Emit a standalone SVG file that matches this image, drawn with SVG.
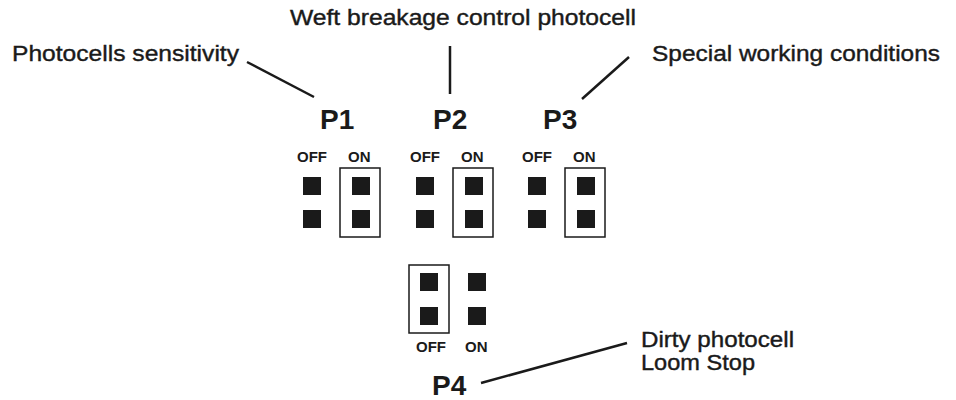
<svg xmlns="http://www.w3.org/2000/svg" width="956" height="400" viewBox="0 0 956 400">
<style>
.lbl{font-family:"Liberation Sans",Arial,sans-serif;font-size:22px;fill:#1a1a1a;stroke:#1a1a1a;stroke-width:0.4}
.p{font-family:"Liberation Sans",Arial,sans-serif;font-size:28px;font-weight:bold;fill:#1a1a1a}
.s{font-family:"Liberation Sans",Arial,sans-serif;font-size:15px;font-weight:bold;fill:#1a1a1a}
.sq{fill:#1a1a1a}
.box{fill:none;stroke:#1a1a1a;stroke-width:1.5}
.ln{stroke:#1a1a1a;stroke-width:2.5;fill:none}
</style>
<rect width="956" height="400" fill="#fff"/>
<g id="label-p1"><text class="lbl" x="12" y="61" textLength="227" lengthAdjust="spacingAndGlyphs">Photocells sensitivity</text></g>
<g id="label-p2"><text class="lbl" x="290" y="25" textLength="346" lengthAdjust="spacingAndGlyphs">Weft breakage control photocell</text></g>
<g id="label-p3"><text class="lbl" x="652" y="61" textLength="288" lengthAdjust="spacingAndGlyphs">Special working conditions</text></g>
<g id="label-p4"><text class="lbl" x="641" y="347" font-size="20" textLength="153" lengthAdjust="spacingAndGlyphs">Dirty photocell</text><text class="lbl" x="641" y="370" font-size="20" textLength="114" lengthAdjust="spacingAndGlyphs">Loom Stop</text></g>
<g id="connectors">
<line class="ln" x1="247" y1="62" x2="314" y2="97"/>
<line class="ln" x1="450" y1="46" x2="450" y2="94"/>
<line class="ln" x1="582" y1="99" x2="629" y2="57"/>
<line class="ln" x1="481" y1="383" x2="627" y2="343"/>
</g>
<g id="P1">
<text class="p" x="320" y="129">P1</text>
<text class="s" x="297" y="162">OFF</text><text class="s" x="348" y="162">ON</text>
<rect class="sq" x="303" y="177" width="18" height="18"/><rect class="sq" x="303" y="210" width="18" height="18"/>
<rect class="sq" x="352" y="177" width="18" height="18"/><rect class="sq" x="352" y="210" width="18" height="18"/>
<rect class="box" x="340" y="168" width="40" height="69"/>
</g>
<g id="P2">
<text class="p" x="433" y="129">P2</text>
<text class="s" x="410" y="162">OFF</text><text class="s" x="461" y="162">ON</text>
<rect class="sq" x="416" y="177" width="18" height="18"/><rect class="sq" x="416" y="210" width="18" height="18"/>
<rect class="sq" x="465" y="177" width="18" height="18"/><rect class="sq" x="465" y="210" width="18" height="18"/>
<rect class="box" x="453" y="168" width="40" height="69"/>
</g>
<g id="P3">
<text class="p" x="543" y="129">P3</text>
<text class="s" x="522" y="162">OFF</text><text class="s" x="573" y="162">ON</text>
<rect class="sq" x="528" y="177" width="18" height="18"/><rect class="sq" x="528" y="210" width="18" height="18"/>
<rect class="sq" x="577" y="177" width="18" height="18"/><rect class="sq" x="577" y="210" width="18" height="18"/>
<rect class="box" x="565" y="168" width="40" height="69"/>
</g>
<g id="P4">
<rect class="sq" x="420" y="273" width="18" height="18"/><rect class="sq" x="420" y="307" width="18" height="18"/>
<rect class="sq" x="468" y="273" width="18" height="18"/><rect class="sq" x="468" y="307" width="18" height="18"/>
<rect class="box" x="409" y="265" width="40" height="68"/>
<text class="s" x="416" y="352">OFF</text><text class="s" x="465" y="352">ON</text>
<text class="p" x="432" y="395">P4</text>
</g>
</svg>
